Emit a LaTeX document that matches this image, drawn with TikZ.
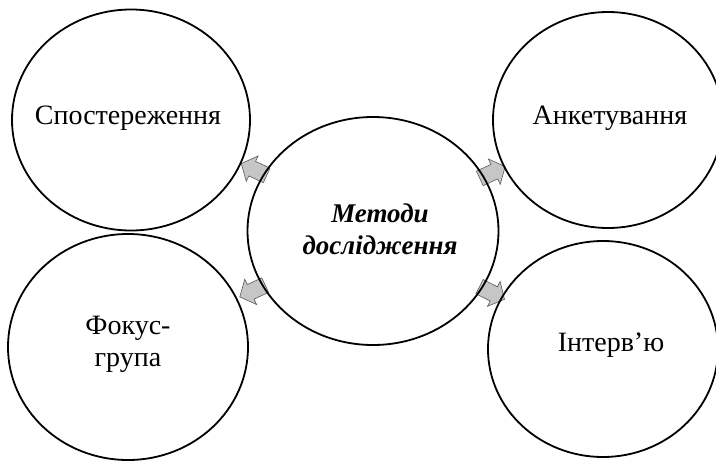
\documentclass[tikz,border=0pt]{standalone}
\usepackage{fontspec}
\setmainfont{Liberation Serif}
\usetikzlibrary{shapes.geometric,calc,backgrounds}
\begin{document}
\begin{tikzpicture}[x=1pt,y=-1pt,line cap=round,line join=round,
  bubble/.style={draw,ellipse,line width=1.8pt,inner sep=0pt},
  caption/.style={align=center,inner sep=0pt,font=\fontsize{28}{32}\selectfont},
  pointer/.style={fill=gray!45,draw=gray!70!black,line width=0.6pt}]
  \clip (0,0) rectangle (716,461);
  % centre and the four methods
  \node[bubble,minimum width=251pt,minimum height=228pt] (meth) at (373,231) {};
  \node[bubble,minimum width=238pt,minimum height=221pt] (obs) at (131,120) {};
  \node[bubble,minimum width=230pt,minimum height=216pt] (quest) at (608,120) {};
  \node[bubble,minimum width=240pt,minimum height=226pt] (focus) at (128,347) {};
  \node[bubble,minimum width=230pt,minimum height=216pt] (interv) at (603,349) {};
  \node[caption,font=\fontsize{27}{32}\selectfont] (methtext) at ($(meth)+(7,-2)$)
    {\textbf{\textit{Методи}}\\\textbf{\textit{дослідження}}};
  \node[caption] (obstext) at ($(obs)+(-3,-2)$) {Спостереження};
  \node[caption] (questtext) at ($(quest)+(2,-2)$) {Анкетування};
  \node[caption] (focustext) at ($(focus)+(0,-3)$) {Фокус-\\група};
  \node[caption] (intervtext) at ($(interv)+(8,-4)$) {Інтерв’ю};
  % block arrows between the circles
  \begin{scope}[on background layer]
    \foreach \to/\ang/\dx/\dy in {obs/155/2/-6, quest/25/2/-3, focus/205/2/2, interv/-27/4/3}
      \draw[pointer,shift={($(meth)!0.5!(\to)+(\dx,\dy)$)},rotate=\ang]
        (-14,-8) -- (2,-8) -- (2,-14) -- (14,0) -- (2,14) -- (2,8) -- (-14,8) -- cycle;
  \end{scope}
\end{tikzpicture}
\end{document}
